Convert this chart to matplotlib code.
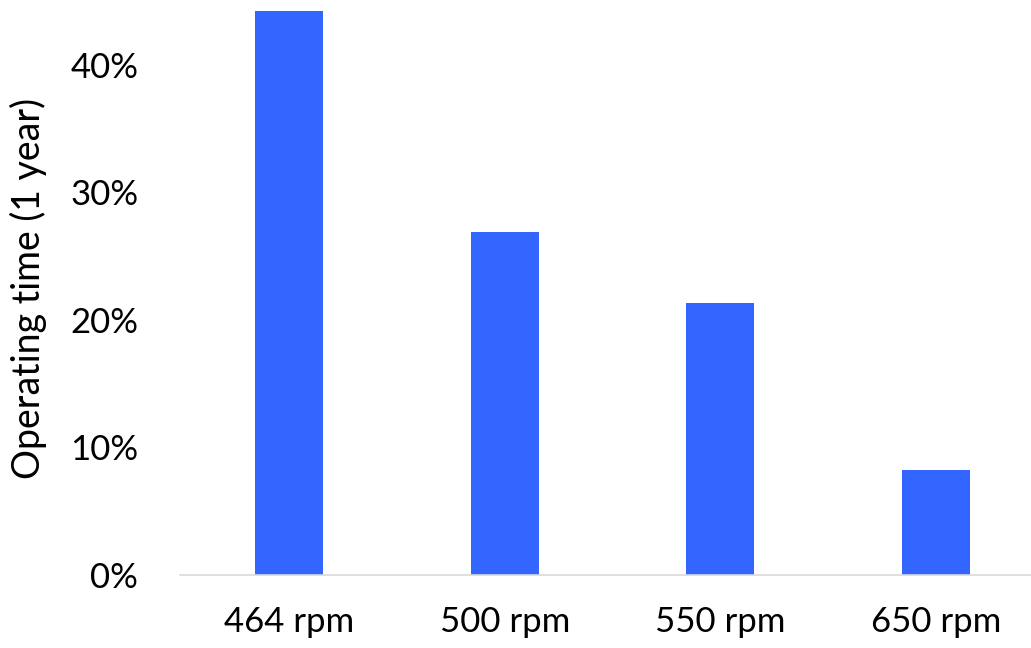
import matplotlib
matplotlib.use("Agg")
import matplotlib.pyplot as plt
from matplotlib.ticker import PercentFormatter

# operating time share per speed
speeds = ["464 rpm", "500 rpm", "550 rpm", "650 rpm"]
share = [0.442, 0.269, 0.213, 0.082]

plt.rcParams["font.family"] = ["Lato", "DejaVu Sans"]

fig = plt.figure(figsize=(10.31, 6.48), dpi=100)
ax = fig.add_axes([180 / 1031, 73 / 648, 851 / 1031, 574 / 648])

x = range(len(speeds))
ax.bar(x, share, width=0.315, color="#3366FF")

ax.set_xlim(-0.506, 3.44)
ax.set_ylim(0, 0.45)
ax.set_yticks([0, 0.1, 0.2, 0.3, 0.4])
ax.yaxis.set_major_formatter(PercentFormatter(1.0, decimals=0))
ax.set_xticks(list(x))
ax.set_xticklabels(speeds)

for s in ["top", "right", "left"]:
    ax.spines[s].set_visible(False)
ax.spines["bottom"].set_color("#D9D9D9")
ax.spines["bottom"].set_linewidth(1.2)
ax.tick_params(axis="both", length=0, labelsize=25, colors="black")
ax.tick_params(axis="y", pad=30)
ax.tick_params(axis="x", pad=22)

ax.set_ylabel("Operating time (1 year)", fontsize=27)
ax.yaxis.set_label_coords(-0.156, 0.5)

fig.savefig("out.png", dpi=100)
